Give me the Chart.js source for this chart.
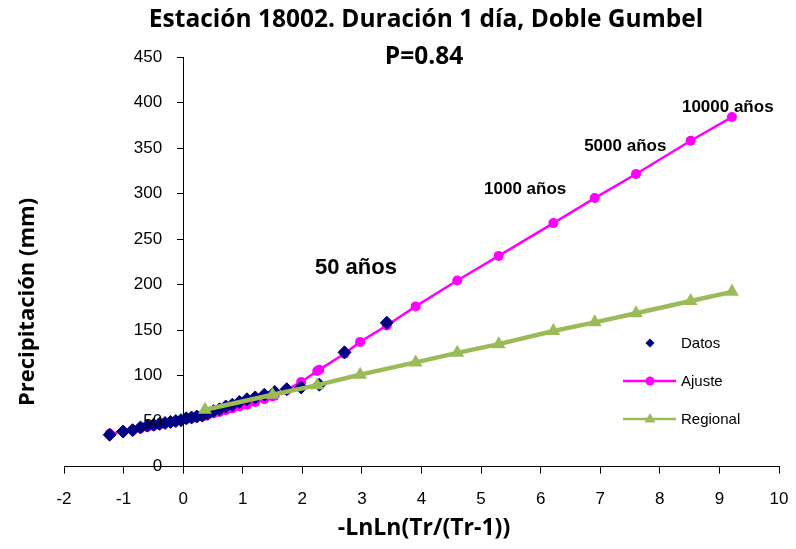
<!DOCTYPE html>
<html>
<head>
<meta charset="utf-8">
<script src="https://cdn.jsdelivr.net/npm/chart.js@4"></script>
<style>
  body { margin: 0; background: #fff; }
  #wrap { width: 796px; height: 549px; }
</style>
</head>
<body>
<div id="wrap"><canvas id="chart"></canvas></div>
<script>
// x = -LnLn(Tr/(Tr-1)), y = precipitation (mm)
const datosX = [-1.2337, -1.0083, -0.8482, -0.7167, -0.6013, -0.4961, -0.3975, -0.3035, -0.2125, -0.1235,
                -0.0355, 0.0523, 0.1404, 0.2295, 0.3203, 0.4134, 0.5095, 0.6095, 0.7143, 0.8250,
                0.9430, 1.0702, 1.2090, 1.3629, 1.5366, 1.7379, 1.9794, 2.2850, 2.7077, 3.4176];
const datosY = [35, 38.5, 40, 43, 45, 46, 47, 48, 49, 50,
                51, 53, 54, 55, 56, 58, 61, 63, 66, 68,
                71, 74, 76, 79, 82, 85, 87, 90, 125.5, 158];

const ajusteX = [-1.2337, -1.0083, -0.8482, -0.7167, -0.6013, -0.4961, -0.3975, -0.3035, -0.2125, -0.1235,
                 -0.0355, 0.0523, 0.1404, 0.2295, 0.3203, 0.3665, 0.4134, 0.5095, 0.6095, 0.7143,
                 0.8250, 0.9430, 1.0702, 1.2090, 1.3629, 1.4999, 1.5366, 1.7379, 1.9794, 2.2504,
                 2.2850, 2.7077, 2.9702, 3.4176, 3.9019, 4.6001, 5.2958, 6.2136, 6.9073, 7.6006,
                 8.5171, 9.2103];
const ajusteY = [36, 38.5, 40.5, 42, 43.5, 45, 46, 47.5, 48.5, 50,
                 51, 52, 53, 54.5, 55.5, 56, 57, 58.5, 60, 62,
                 64, 66, 68, 71, 74, 77, 78, 84, 93, 105,
                 106.5, 124, 137, 155, 176, 204.5, 231.5, 267.5, 295, 321.5,
                 358, 384];

const regionalX = [0.3665, 1.4999, 2.2504, 2.9702, 3.9019, 4.6001, 5.2958, 6.2136, 6.9073, 7.6006, 8.5171, 9.2103];
const regionalY = [62.5, 79, 89.5, 101, 114.5, 125, 134.5, 149, 158.5, 168.5, 182, 192];

// return period notes (placed in data space)
const noteText = ['50 años', '1000 años', '5000 años', '10000 años'];
const noteX = [2.9, 5.74, 7.42, 9.14];
const noteY = [218, 305, 352, 395];
const noteSize = [22, 17, 17, 17];

const titleLines = ['Estación 18002. Duración 1 día, Doble Gumbel', 'P=0.84'];
const yTitle = 'Precipitación (mm)';
const xTitle = '-LnLn(Tr/(Tr-1))';

const NAVY = '#000080';
const MAGENTA = '#FF00FF';
const GREEN = '#9BBB59';
const TICK_FONT = '17px "Liberation Sans", Arial, sans-serif';
const TITLE_FAMILY = '"Open Sans", sans-serif';

function toPoints(xs, ys) {
    return xs.map((x, i) => ({ x: x, y: ys[i] }));
}

// titles, y tick labels, notes and legend drawn by hand
const extras = {
    id: 'extras',
    afterDatasetsDraw(chart) {
        const ctx = chart.ctx;
        const xs = chart.scales.x;
        const ys = chart.scales.y;
        ctx.save();
        ctx.fillStyle = '#000';
        ctx.textBaseline = 'middle';

        // y tick labels, left of the axis at x = 0
        const axisX = xs.getPixelForValue(0);
        ctx.font = TICK_FONT;
        ctx.textAlign = 'right';
        ys.ticks.forEach(t => {
            ctx.fillText(String(t.value), axisX - 21, ys.getPixelForValue(t.value));
        });

        ctx.textAlign = 'center';
        // notes
        noteText.forEach((t, i) => {
            ctx.font = 'bold ' + noteSize[i] + 'px "Liberation Sans", Arial, sans-serif';
            ctx.fillText(t, xs.getPixelForValue(noteX[i]), ys.getPixelForValue(noteY[i]));
        });

        // title
        ctx.font = 'bold 24.5px ' + TITLE_FAMILY;
        ctx.fillText(titleLines[0], 426, 20);
        ctx.fillText(titleLines[1], 424, 57);

        // axis titles
        ctx.font = 'bold 23px ' + TITLE_FAMILY;
        ctx.fillText(xTitle, 424, 528);
        ctx.save();
        ctx.translate(28, 302);
        ctx.rotate(-Math.PI / 2);
        ctx.font = 'bold 22px ' + TITLE_FAMILY;
        ctx.fillText(yTitle, 0, 0);
        ctx.restore();

        // legend
        const lx = 650, names = ['Datos', 'Ajuste', 'Regional'], rows = [343, 381, 419];
        ctx.font = '15px "Liberation Sans", Arial, sans-serif';
        ctx.textAlign = 'left';
        names.forEach((n, i) => {
            const y = rows[i];
            if (i === 0) {
                ctx.fillStyle = NAVY;
                ctx.beginPath();
                ctx.moveTo(lx - 4.5, y); ctx.lineTo(lx, y - 4.5);
                ctx.lineTo(lx + 4.5, y); ctx.lineTo(lx, y + 4.5);
                ctx.closePath(); ctx.fill();
            } else if (i === 1) {
                ctx.strokeStyle = MAGENTA; ctx.lineWidth = 2.5;
                ctx.beginPath(); ctx.moveTo(623, y); ctx.lineTo(676, y); ctx.stroke();
                ctx.fillStyle = MAGENTA;
                ctx.beginPath(); ctx.arc(lx, y, 4.5, 0, 2 * Math.PI); ctx.fill();
            } else {
                ctx.strokeStyle = GREEN; ctx.lineWidth = 2.5;
                ctx.beginPath(); ctx.moveTo(623, y); ctx.lineTo(676, y); ctx.stroke();
                ctx.fillStyle = GREEN;
                ctx.beginPath();
                ctx.moveTo(lx, y - 6); ctx.lineTo(lx + 5.5, y + 3.5); ctx.lineTo(lx - 5.5, y + 3.5);
                ctx.closePath(); ctx.fill();
            }
            ctx.fillStyle = '#000';
            ctx.fillText(n, 681, y + 1);
        });
        ctx.restore();
    }
};

const ctx = document.getElementById('chart').getContext('2d');
new Chart(ctx, {
    type: 'scatter',
    data: {
        datasets: [
            {
                label: 'Regional',
                data: toPoints(regionalX, regionalY),
                showLine: true,
                borderColor: GREEN,
                backgroundColor: GREEN,
                borderWidth: 4.5,
                pointStyle: 'triangle',
                pointRadius: 8,
                pointBorderWidth: 0,
                order: 0
            },
            {
                label: 'Datos',
                data: toPoints(datosX, datosY),
                showLine: false,
                borderColor: NAVY,
                backgroundColor: NAVY,
                pointStyle: 'rectRot',
                pointRadius: 6.5,
                pointBorderWidth: 1,
                order: 1
            },
            {
                label: 'Ajuste',
                data: toPoints(ajusteX, ajusteY),
                showLine: true,
                borderColor: MAGENTA,
                backgroundColor: MAGENTA,
                borderWidth: 2.5,
                pointStyle: 'circle',
                pointRadius: 5,
                pointBorderWidth: 0,
                order: 2
            }
        ]
    },
    options: {
        responsive: true,
        maintainAspectRatio: false,
        animation: false,
        layout: { padding: { left: 64, right: 17, top: 57, bottom: 23 } },
        plugins: {
            legend: { display: false },
            tooltip: { enabled: false }
        },
        scales: {
            x: {
                type: 'linear',
                min: -2,
                max: 10,
                afterFit: (scale) => { scale.paddingLeft = 10; scale.paddingRight = 10; },
                ticks: {
                    stepSize: 1,
                    color: '#000',
                    padding: 16,
                    font: { family: '"Liberation Sans", Arial, sans-serif', size: 17 }
                },
                grid: { display: true, drawOnChartArea: false, drawTicks: true, tickLength: 7, color: '#000' },
                border: { display: true, color: '#000', width: 1 }
            },
            y: {
                type: 'linear',
                position: { x: 0 },
                min: 0,
                max: 450,
                afterFit: (scale) => { scale.width = 0; },
                ticks: {
                    stepSize: 50,
                    display: false
                },
                grid: { display: true, drawOnChartArea: false, drawTicks: true, tickLength: 6, color: '#000' },
                border: { display: true, color: '#000', width: 1 }
            }
        }
    },
    plugins: [extras]
});
</script>
</body>
</html>
